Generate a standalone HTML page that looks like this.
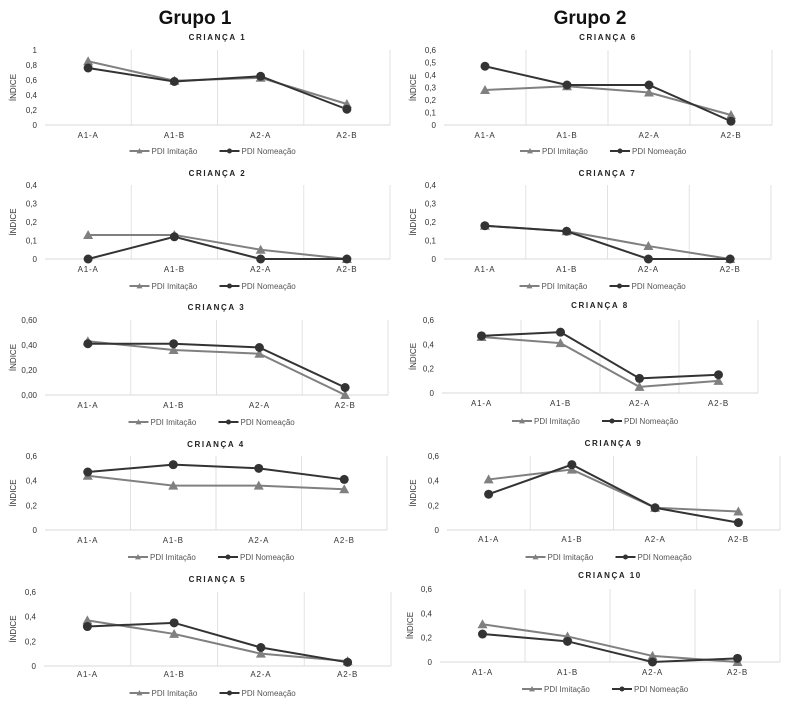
<!DOCTYPE html>
<html><head><meta charset="utf-8">
<style>
body{margin:0;background:#fff;}
svg{display:block;font-family:"Liberation Sans",sans-serif;}
</style></head>
<body>
<svg id="fig" width="793" height="707" viewBox="0 0 793 707">
<text x="195" y="24" text-anchor="middle" font-size="19" font-weight="bold" fill="#111">Grupo 1</text>
<text x="590" y="24" text-anchor="middle" font-size="19" font-weight="bold" fill="#111">Grupo 2</text>
</svg>
<script>
const categories = ["A1-A","A1-B","A2-A","A2-B"];
const titles = ["CRIANÇA 1","CRIANÇA 2","CRIANÇA 3","CRIANÇA 4","CRIANÇA 5","CRIANÇA 6","CRIANÇA 7","CRIANÇA 8","CRIANÇA 9","CRIANÇA 10"];
const imit1 = [0.85,0.59,0.63,0.28];
const nom1  = [0.76,0.58,0.65,0.21];
const imit2 = [0.13,0.13,0.05,0];
const nom2  = [0,0.12,0,0];
const imit3 = [0.43,0.36,0.33,0];
const nom3  = [0.41,0.41,0.38,0.06];
const imit4 = [0.44,0.36,0.36,0.33];
const nom4  = [0.47,0.53,0.50,0.41];
const imit5 = [0.37,0.26,0.10,0.04];
const nom5  = [0.32,0.35,0.15,0.03];
const imit6 = [0.28,0.31,0.26,0.08];
const nom6  = [0.47,0.32,0.32,0.03];
const imit7 = [0.18,0.15,0.07,0];
const nom7  = [0.18,0.15,0,0];
const imit8 = [0.46,0.41,0.05,0.10];
const nom8  = [0.47,0.50,0.12,0.15];
const imit9 = [0.41,0.49,0.18,0.15];
const nom9  = [0.29,0.53,0.18,0.06];
const imit10 = [0.31,0.21,0.05,0];
const nom10  = [0.23,0.17,0,0.03];
const ticksA = [0,0.2,0.4,0.6,0.8,1];
const ticksALabels = ["0","0,2","0,4","0,6","0,8","1"];
const ticksB = [0,0.1,0.2,0.3,0.4];
const ticksBLabels = ["0","0,1","0,2","0,3","0,4"];
const ticksC = [0,0.2,0.4,0.6];
const ticksCLabels = ["0,00","0,20","0,40","0,60"];
const ticksD = [0,0.2,0.4,0.6];
const ticksDLabels = ["0","0,2","0,4","0,6"];
const ticksE = [0,0.1,0.2,0.3,0.4,0.5,0.6];
const ticksELabels = ["0","0,1","0,2","0,3","0,4","0,5","0,6"];

const imitSeries = [imit1,imit2,imit3,imit4,imit5,imit6,imit7,imit8,imit9,imit10];
const nomSeries = [nom1,nom2,nom3,nom4,nom5,nom6,nom7,nom8,nom9,nom10];
const tickSets = [ticksA,ticksB,ticksC,ticksD,ticksD,ticksE,ticksB,ticksD,ticksD,ticksD];
const tickLabelSets = [ticksALabels,ticksBLabels,ticksCLabels,ticksDLabels,ticksDLabels,ticksELabels,ticksBLabels,ticksDLabels,ticksDLabels,ticksDLabels];

// layout: left, right, yTop(pixel of max), yBottom(pixel of 0), title y, label y, legend y, ylabel x
const layouts = [
 {l:45,r:390,t:50,b:125,ty:40,ly:138,gy:151,yx:13},
 {l:45,r:390,t:185,b:259,ty:176,ly:272,gy:286,yx:13},
 {l:45,r:388,t:320,b:395,ty:310,ly:408,gy:422,yx:13},
 {l:45,r:387,t:456,b:530,ty:447,ly:543,gy:557,yx:13},
 {l:44,r:391,t:592,b:666,ty:582,ly:677,gy:693,yx:13},
 {l:444,r:772,t:50,b:125,ty:40,ly:138,gy:151,yx:413},
 {l:444,r:771,t:185,b:259,ty:176,ly:272,gy:286,yx:413},
 {l:442,r:758,t:320,b:393,ty:308,ly:406,gy:421,yx:413},
 {l:447,r:780,t:456,b:530,ty:446,ly:542,gy:557,yx:413},
 {l:440,r:780,t:589,b:662,ty:578,ly:675,gy:689,yx:410}
];
const NS = "http://www.w3.org/2000/svg";
const svg = document.getElementById('fig');
function mk(tag, attrs, parent){
  const e = document.createElementNS(NS, tag);
  for (const k in attrs) e.setAttribute(k, attrs[k]);
  (parent||svg).appendChild(e);
  return e;
}
function tri(g, x, y, s, fill){
  return mk('polygon',{points:`${x},${y-s} ${x-s},${y+s*0.8} ${x+s},${y+s*0.8}`,fill:fill},g);
}
layouts.forEach((L, i) => {
  const g = mk('g',{});
  
  
  const ticks = tickSets[i], tlabels = tickLabelSets[i];
  const maxV = ticks[ticks.length-1];
  const band = (L.r - L.l) / categories.length;
  const xs = k => L.l + band * (k + 0.5);
  const ys = v => L.b - (v / maxV) * (L.b - L.t);
  const cx = (L.l + L.r) / 2;
  const t = mk('text',{x:cx,y:L.ty,'text-anchor':'middle','font-size':8,'font-weight':'bold','letter-spacing':'1.6',fill:'#222'},g);
  t.textContent = titles[i];
  
  
  // gridlines
  for (let k = 1; k <= categories.length; k++){
    const gl = mk('line',{x1:L.l+band*k,x2:L.l+band*k,y1:L.t,y2:L.b,stroke:'#e2e2e2','stroke-width':1},g);
    
    
  }
  const ax = mk('line',{x1:L.l,x2:L.r,y1:L.b,y2:L.b,stroke:'#d8d8d8','stroke-width':1},g);
  
  
  ticks.forEach((v, j) => {
    const tt = mk('text',{x:L.l-8,y:ys(v)+3,'text-anchor':'end','font-size':8,fill:'#333'},g);
    tt.textContent = tlabels[j];
    
    
  });
  const yl = mk('text',{x:L.yx+3,y:(L.t+L.b)/2,'text-anchor':'middle','font-size':8,fill:'#333',transform:`rotate(-90 ${L.yx+3} ${(L.t+L.b)/2})`},g);
  yl.textContent = 'ÍNDICE';
  
  
  categories.forEach((c, k) => {
    const ct = mk('text',{x:xs(k),y:L.ly,'text-anchor':'middle','font-size':8,'letter-spacing':'0.8',fill:'#333'},g);
    ct.textContent = c;
    
    
  });
  // series
  const im = imitSeries[i], nm = nomSeries[i];
  const pI = mk('polyline',{points:im.map((v,k)=>xs(k)+','+ys(v)).join(' '),fill:'none',stroke:'#808080','stroke-width':2},g);
  
  
  const pN = mk('polyline',{points:nm.map((v,k)=>xs(k)+','+ys(v)).join(' '),fill:'none',stroke:'#333','stroke-width':2},g);
  
  
  im.forEach((v,k) => {
    const m = tri(g, xs(k), ys(v), 5, '#808080');
    
    
  });
  nm.forEach((v,k) => {
    const m = mk('circle',{cx:xs(k),cy:ys(v),r:4.5,fill:'#333'},g);
    
    
  });
  // legend
  const lg = mk('g',{},g);
  
  
  const lx = cx - 88;
  mk('line',{x1:lx,x2:lx+20,y1:L.gy,y2:L.gy,stroke:'#808080','stroke-width':2},lg);
  tri(lg, lx+10, L.gy, 3, '#808080');
  const l1 = mk('text',{x:lx+22,y:L.gy+3,'font-size':8,fill:'#555'},lg);
  l1.textContent = 'PDI Imitação';
  
  
  const lx2 = cx + 2;
  mk('line',{x1:lx2,x2:lx2+20,y1:L.gy,y2:L.gy,stroke:'#333','stroke-width':2},lg);
  mk('circle',{cx:lx2+10,cy:L.gy,r:2.5,fill:'#333'},lg);
  const l2 = mk('text',{x:lx2+22,y:L.gy+3,'font-size':8,fill:'#555'},lg);
  l2.textContent = 'PDI Nomeação';
  
  
});
</script>
</body></html>
